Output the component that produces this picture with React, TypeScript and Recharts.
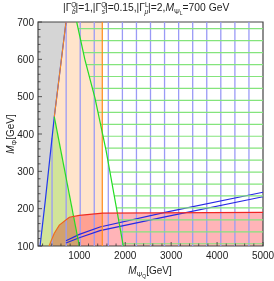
import { ComposedChart, XAxis, YAxis, Area, Line, ReferenceArea } from 'recharts'

// axis ticks
const xMajorTicks = [1000, 2000, 3000, 4000, 5000]
const xTicks = [200, 400, 600, 800, 1000, 1200, 1400, 1600, 1800, 2000, 2200, 2400, 2600, 2800, 3000, 3200, 3400, 3600, 3800, 4000, 4200, 4400, 4600, 4800, 5000]
const yMajorTicks = [100, 200, 300, 400, 500, 600, 700]
const yTicks = [100, 120, 140, 160, 180, 200, 220, 240, 260, 280, 300, 320, 340, 360, 380, 400, 420, 440, 460, 480, 500, 520, 540, 560, 580, 600, 620, 640, 660, 680, 700]

// region boundaries (M_PsiQ, M_Phi) in GeV
const blueEdge = [{ x: 145, y: 100 }, { x: 260, y: 223 }, { x: 455, y: 446 }, { x: 710, y: 700 }]
const grayRegion = [{ x: 100, y: 100 }, ...blueEdge]
const peachRegion = [...blueEdge, { x: 1500, y: 700 }]
const orangeEdge = [{ x: 455, y: 446 }, { x: 710, y: 700 }]
const orangeWall = [{ x: 1500, y: 100 }, { x: 1500, y: 700 }]
const greenTriangle = [{ x: 145, y: 100 }, { x: 260, y: 223 }, { x: 455, y: 446 }, { x: 1000, y: 100 }]
const greenEdgeLow = [{ x: 455, y: 446 }, { x: 1000, y: 100 }]
const greenEdgeHigh = [{ x: 943, y: 700 }, { x: 1120, y: 600 }, { x: 1341, y: 496 }, { x: 1581, y: 357 }, { x: 1958, y: 100 }]
const redEdge = [{ x: 340, y: 100 }, { x: 455, y: 134 }, { x: 564, y: 156 }, { x: 782, y: 177 }, { x: 1000, y: 182 }, { x: 1509, y: 188 }, { x: 5000, y: 190 }]
const bandUpper = [{ x: 710, y: 114 }, { x: 1000, y: 131 }, { x: 1450, y: 151 }, { x: 2866, y: 190 }, { x: 5000, y: 244 }]
const bandLower = [{ x: 710, y: 108 }, { x: 1000, y: 122 }, { x: 1450, y: 141 }, { x: 2866, y: 178 }, { x: 5000, y: 232 }]

// mesh lines
const meshX = [406, 713, 1019, 1325, 1631, 1938, 2244, 2550, 2856, 3163, 3469, 3775, 4081, 4388, 4694]
const meshY = [106, 138, 170, 202, 234, 266, 298, 330, 362, 394, 426, 458, 490, 522, 554, 586, 618, 650, 682]

type Pt = { x: number; y: number }

// x where a monotone edge crosses height y
function xAt(edge: Pt[], y: number) {
  for (let i = 0; i < edge.length - 1; i++) {
    const a = edge[i], b = edge[i + 1]
    if ((y - a.y) * (y - b.y) <= 0 && a.y !== b.y) return a.x + (y - a.y) / (b.y - a.y) * (b.x - a.x)
  }
  return edge[edge.length - 1].x
}

// y of an edge at x (clamped to top of plot)
function yAt(edge: Pt[], x: number) {
  if (x >= edge[edge.length - 1].x) return 700
  for (let i = 0; i < edge.length - 1; i++) {
    const a = edge[i], b = edge[i + 1]
    if (x >= a.x && x <= b.x) return a.y + (x - a.x) / (b.x - a.x) * (b.y - a.y)
  }
  return 100
}

const font = '"Liberation Sans", Arial, sans-serif'

const XTick = (props: any) => {
  const { x, y, payload } = props
  const major = xMajorTicks.includes(payload.value)
  return (
    <g>
      <line x1={x} x2={x} y1={y} y2={y - (major ? 4 : 2.5)} stroke="#333" strokeWidth={0.8} />
      {major && (
        <text x={x} y={y + 13} textAnchor="middle" fontSize={10} fill="#222" fontFamily={font}>
          {payload.value}
        </text>
      )}
    </g>
  )
}

const YTick = (props: any) => {
  const { x, y, payload } = props
  const major = yMajorTicks.includes(payload.value)
  return (
    <g>
      <line x1={x} x2={x + (major ? 4 : 2.5)} y1={y} y2={y} stroke="#333" strokeWidth={0.8} />
      {major && (
        <text x={x - 4} y={y + 3.5} textAnchor="end" fontSize={10} fill="#222" fontFamily={font}>
          {payload.value}
        </text>
      )}
    </g>
  )
}

const lineProps = { type: 'linear' as const, dataKey: 'y', dot: false, activeDot: false, isAnimationActive: false }

export default function App() {
  return (
    <div style={{ position: 'absolute', left: 0, top: 0, width: 274, height: 281 }}>
      <style>{'.mult { mix-blend-mode: multiply; }'}</style>
      <ComposedChart width={274} height={281} margin={{ top: 22, right: 11, bottom: 0, left: 0 }}>
        <defs>
          <linearGradient id="redEdgeStroke" x1="0" y1="0" x2="1" y2="0">
            <stop offset="0" stopColor="#ee7a1c" />
            <stop offset="0.08" stopColor="#ee5a1c" />
            <stop offset="0.16" stopColor="#ee2a22" />
            <stop offset="1" stopColor="#ee2424" />
          </linearGradient>
        </defs>
        <XAxis
          type="number"
          dataKey="x"
          domain={[100, 5000]}
          allowDataOverflow
          ticks={xTicks}
          interval={0}
          tick={<XTick />}
          tickSize={0}
          tickMargin={0}
          tickLine={false}
          axisLine={false}
          height={35}
        />
        <YAxis
          type="number"
          dataKey="y"
          domain={[100, 700]}
          allowDataOverflow
          ticks={yTicks}
          interval={0}
          tick={<YTick />}
          tickSize={0}
          tickMargin={0}
          tickLine={false}
          axisLine={false}
          width={38}
        />

        <Area data={grayRegion} {...lineProps} baseValue={700} stroke="none" fill="#d5d5d5" fillOpacity={1} />

        {meshX.map((mx) => (
          <Line
            key={'mx' + mx}
            data={[{ x: mx, y: 100 }, { x: mx, y: yAt(blueEdge, mx) }]}
            {...lineProps}
            stroke="#9a9af6"
            strokeWidth={1.3}
          />
        ))}

        <Line data={bandUpper} {...lineProps} stroke="#2828e4" strokeWidth={1.2} />
        <Line data={bandLower} {...lineProps} stroke="#2828e4" strokeWidth={1.2} />

        <Area className="mult" data={peachRegion} {...lineProps} baseValue={100} stroke="none" fill="#ffe4cb" fillOpacity={1} />
        <Area className="mult" data={greenTriangle} {...lineProps} baseValue={100} stroke="none" fill="#d2ffc0" fillOpacity={1} />
        <Area className="mult" data={redEdge} {...lineProps} baseValue={100} stroke="none" fill="#ffb4b8" fillOpacity={1} />

        {meshY.map((my) => (
          <Line
            key={'my' + my}
            data={[{ x: xAt(greenEdgeHigh, my), y: my }, { x: 5000, y: my }]}
            {...lineProps}
            stroke="#84e47c"
            strokeWidth={1.2}
          />
        ))}

        <Line data={blueEdge} {...lineProps} stroke="#2238ee" strokeWidth={1.2} />
        <Line data={orangeEdge} {...lineProps} stroke="#ff8c1a" strokeWidth={1} />
        <Line data={orangeWall} {...lineProps} stroke="#ff8c1a" strokeWidth={1.2} />
        <Line data={greenEdgeLow} {...lineProps} stroke="#22dd22" strokeWidth={1.2} />
        <Line data={greenEdgeHigh} {...lineProps} stroke="#22dd22" strokeWidth={1.2} />
        <Line data={redEdge} {...lineProps} stroke="url(#redEdgeStroke)" strokeWidth={1.2} />

        <ReferenceArea x1={100} x2={5000} y1={100} y2={700} fill="none" stroke="#444" strokeWidth={1.2} />
      </ComposedChart>

      <svg width={274} height={281} style={{ position: 'absolute', left: 0, top: 0, pointerEvents: 'none' }} fontFamily={font}>
        <text x={63} y={11} fontSize={10.3} fill="#222">
          |Γ<tspan dy={-4} fontSize={6.5}>Q</tspan>
          <tspan dx={-4.5} dy={7} fontSize={6.5} fontStyle="italic">b</tspan>
          <tspan dy={-3}>|=1,|Γ</tspan>
          <tspan dy={-4} fontSize={6.5}>Q</tspan>
          <tspan dx={-4.5} dy={7} fontSize={6.5} fontStyle="italic">s</tspan>
          <tspan dy={-3}>|=0.15,|Γ</tspan>
          <tspan dy={-4} fontSize={6.5}>L</tspan>
          <tspan dx={-4} dy={7} fontSize={6.5} fontStyle="italic">μ</tspan>
          <tspan dy={-3}>|=2,</tspan>
          <tspan fontStyle="italic">M</tspan>
          <tspan dy={2.5} fontSize={7}>Ψ</tspan>
          <tspan dy={1.5} fontSize={5}>L</tspan>
          <tspan dy={-4}>=700 GeV</tspan>
        </text>
        <text transform="translate(14,134) rotate(-90)" textAnchor="middle" fontSize={10} fill="#222">
          <tspan fontStyle="italic">M</tspan>
          <tspan dy={2.5} fontSize={7}>Φ</tspan>
          <tspan dy={-2.5}>[GeV]</tspan>
        </text>
        <text x={150} y={274} textAnchor="middle" fontSize={10} fill="#222">
          <tspan fontStyle="italic">M</tspan>
          <tspan dy={2.5} fontSize={7}>Ψ</tspan>
          <tspan dy={1.5} fontSize={5}>Q</tspan>
          <tspan dy={-4}>[GeV]</tspan>
        </text>
      </svg>
    </div>
  )
}
